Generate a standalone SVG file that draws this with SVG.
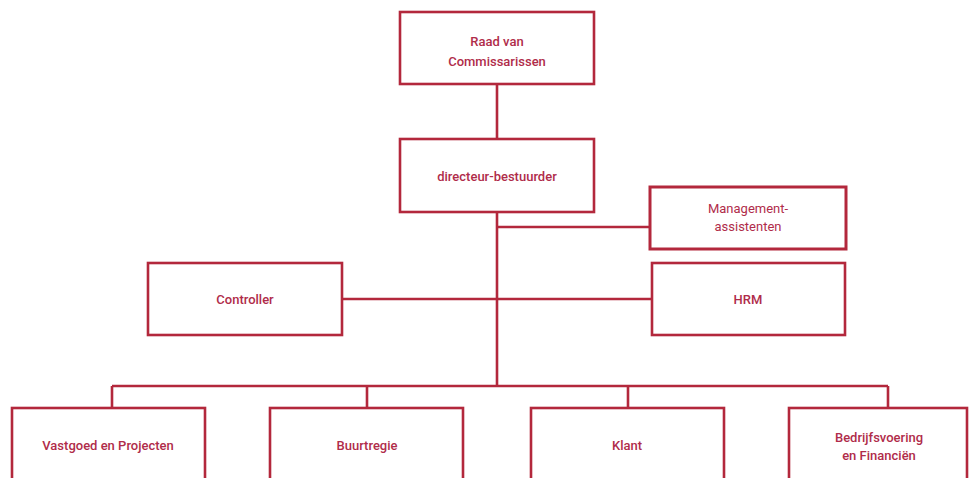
<svg xmlns="http://www.w3.org/2000/svg" width="972" height="478" viewBox="0 0 972 478">
<style>
.box{fill:#fff;stroke:#b3283c;stroke-width:2.6}
.ln{fill:none;stroke:#b3283c;stroke-width:2.6}
text{font-family:Roboto,"Liberation Sans",sans-serif;font-size:13px;font-weight:500;fill:#b02c4a;text-anchor:middle;dominant-baseline:central}
</style>
<rect width="972" height="478" fill="#fff"/>
<g id="connectors">
<path class="ln" d="M497 84V386"/>
<path class="ln" d="M497 227H650"/>
<path class="ln" d="M342 299H652"/>
<path class="ln" d="M112 386H888M112 386V408M367 386V408M628 386V408M888 386V408"/>
</g>
<g id="raad"><rect class="box" x="400" y="12" width="194" height="72"/><text x="497" y="41">Raad van</text><text x="497" y="61">Commissarissen</text></g>
<g id="directeur"><rect class="box" x="400" y="139" width="194" height="73"/><text x="497" y="176">directeur-bestuurder</text></g>
<g id="management"><rect class="box" x="650" y="187" width="196" height="62" style="stroke-width:3"/><text x="748" y="208" style="font-weight:400">Management-</text><text x="748" y="226" style="font-weight:400">assistenten</text></g>
<g id="controller"><rect class="box" x="148" y="263" width="194" height="72"/><text x="245" y="299">Controller</text></g>
<g id="hrm"><rect class="box" x="652" y="263" width="193" height="72"/><text x="748" y="299">HRM</text></g>
<g id="vastgoed"><rect class="box" x="12" y="408" width="193" height="80"/><text x="108" y="445">Vastgoed en Projecten</text></g>
<g id="buurtregie"><rect class="box" x="270" y="408" width="193" height="80"/><text x="367" y="445">Buurtregie</text></g>
<g id="klant"><rect class="box" x="531" y="408" width="193" height="80"/><text x="627" y="445">Klant</text></g>
<g id="bedrijfsvoering"><rect class="box" x="789" y="408" width="178" height="80"/><text x="879" y="437">Bedrijfsvoering</text><text x="879" y="455">en Financiën</text></g>
</svg>
